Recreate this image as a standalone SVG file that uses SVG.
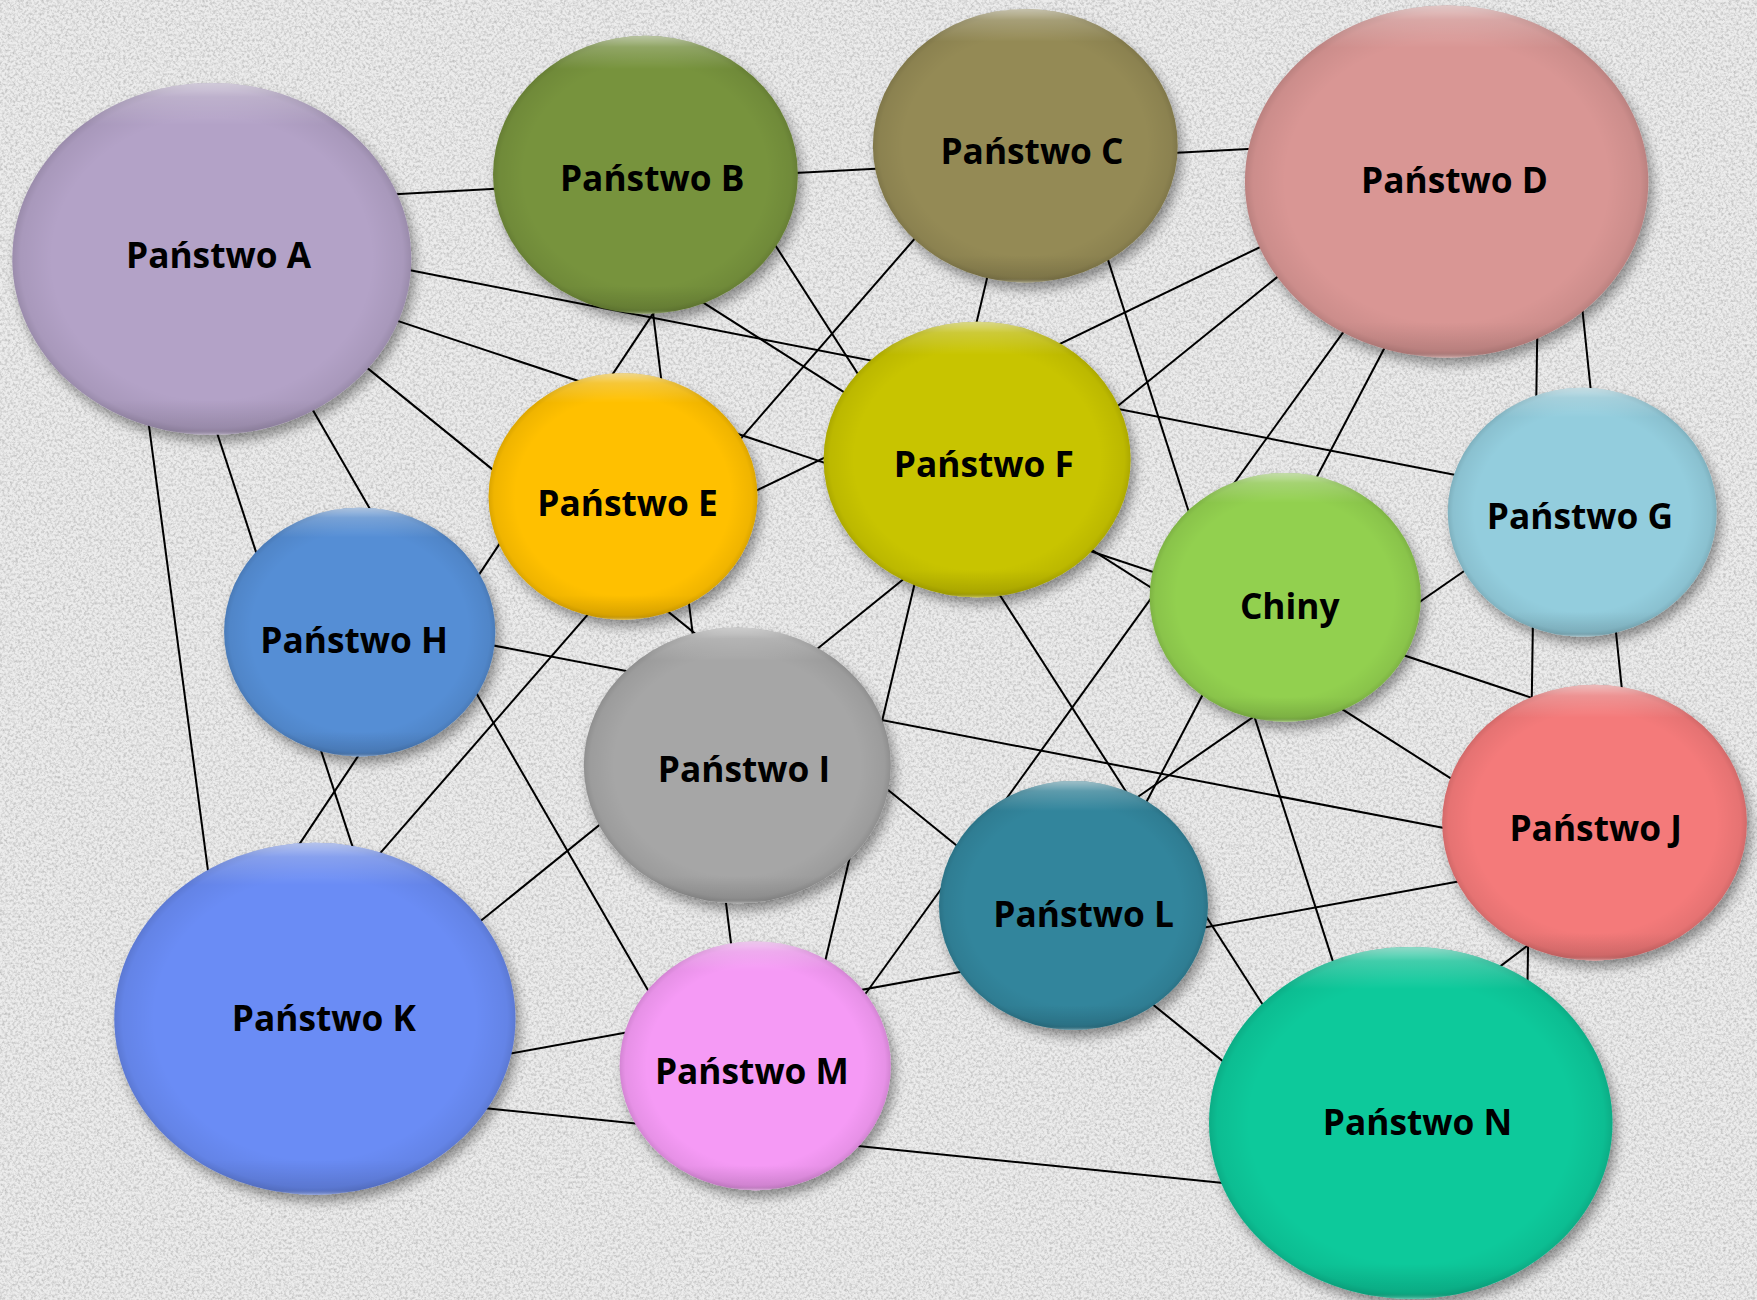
<svg xmlns="http://www.w3.org/2000/svg" width="1757" height="1300" viewBox="0 0 1757 1300">
<defs>
<style>
.t{font-family:"Open Sans",Lato,"Liberation Sans",sans-serif;font-weight:700;font-size:31.5px;fill:#000;text-anchor:middle}
.ln{stroke:#000;stroke-width:1.8;fill:none}
.b{filter:url(#sh)}
.edge{fill:url(#edge)}
.top{fill:url(#top)}
</style>
<filter id="noise" x="0" y="0" width="100%" height="100%">
<feTurbulence type="fractalNoise" baseFrequency="0.38" numOctaves="3" seed="7" result="n"/>
<feColorMatrix in="n" type="matrix" values="0 0 0 0 0.5  0 0 0 0 0.5  0 0 0 0 0.5  2 0 0 0 -0.8"/>
</filter>
<filter id="sh" x="-20%" y="-20%" width="150%" height="150%">
<feGaussianBlur in="SourceAlpha" stdDeviation="5"/>
<feOffset dx="4" dy="6" result="o"/>
<feComponentTransfer><feFuncA type="linear" slope="0.4"/></feComponentTransfer>
<feMerge><feMergeNode/><feMergeNode in="SourceGraphic"/></feMerge>
</filter>
<radialGradient id="edge" cx="50%" cy="50%" r="50%">
<stop offset="0.8" stop-color="#000" stop-opacity="0"/>
<stop offset="0.96" stop-color="#000" stop-opacity="0.06"/>
<stop offset="1" stop-color="#000" stop-opacity="0.14"/>
</radialGradient>
<linearGradient id="top" x1="0" y1="0" x2="0" y2="1">
<stop offset="0" stop-color="#fff" stop-opacity="0.55"/>
<stop offset="0.04" stop-color="#fff" stop-opacity="0.22"/>
<stop offset="0.12" stop-color="#fff" stop-opacity="0"/>
<stop offset="0.9" stop-color="#000" stop-opacity="0"/>
<stop offset="0.985" stop-color="#000" stop-opacity="0.1"/>
<stop offset="1" stop-color="#fff" stop-opacity="0.35"/>
</linearGradient>
</defs>
<rect width="1757" height="1300" fill="#ececec"/>
<rect width="1757" height="1300" filter="url(#noise)"/>
<g transform="scale(1.12054 1.12069)">
<g id="connectors">
<line class="ln" x1="340" y1="173.9" x2="1135" y2="131.9"/>
<line class="ln" x1="350" y1="238" x2="1315" y2="427"/>
<line class="ln" x1="340" y1="281.4" x2="1380" y2="627"/>
<line class="ln" x1="315" y1="318" x2="1105" y2="958"/>
<line class="ln" x1="270" y1="350" x2="590" y2="904"/>
<line class="ln" x1="190" y1="375" x2="320" y2="772"/>
<line class="ln" x1="131" y1="365" x2="188" y2="795"/>
<line class="ln" x1="592" y1="266" x2="258" y2="767"/>
<line class="ln" x1="581" y1="265" x2="654" y2="855"/>
<line class="ln" x1="615" y1="262" x2="1308" y2="703"/>
<line class="ln" x1="683" y1="205" x2="1135" y2="909"/>
<line class="ln" x1="825" y1="203" x2="330" y2="772"/>
<line class="ln" x1="884" y1="235" x2="733" y2="872"/>
<line class="ln" x1="985" y1="220" x2="1195" y2="875"/>
<line class="ln" x1="1140" y1="213" x2="660" y2="445"/>
<line class="ln" x1="1150" y1="239" x2="420" y2="829"/>
<line class="ln" x1="1207" y1="285" x2="765" y2="897"/>
<line class="ln" x1="1240" y1="302" x2="1015" y2="731"/>
<line class="ln" x1="1372" y1="290" x2="1363" y2="890"/>
<line class="ln" x1="1411" y1="265" x2="1449" y2="630"/>
<line class="ln" x1="1318" y1="501.7" x2="1005" y2="718.3"/>
<line class="ln" x1="425" y1="573" x2="1305" y2="742"/>
<line class="ln" x1="445" y1="942" x2="1310" y2="785"/>
<line class="ln" x1="425" y1="988" x2="1105" y2="1057"/>
<line class="ln" x1="1330" y1="869" x2="1372" y2="837"/>
</g>
<g id="node-a"><ellipse class="b" cx="189" cy="231" rx="178" ry="157" fill="#B3A2C7"/><ellipse class="edge" cx="189" cy="231" rx="178" ry="157"/><ellipse class="top" cx="189" cy="231" rx="178" ry="157"/><text class="t" x="195" y="239">Państwo A</text></g>
<g id="node-b"><ellipse class="b" cx="576" cy="156" rx="136" ry="124" fill="#77933C"/><ellipse class="edge" cx="576" cy="156" rx="136" ry="124"/><ellipse class="top" cx="576" cy="156" rx="136" ry="124"/><text class="t" x="582" y="170">Państwo B</text></g>
<g id="node-c"><ellipse class="b" cx="915" cy="130" rx="136" ry="122" fill="#948A54"/><ellipse class="edge" cx="915" cy="130" rx="136" ry="122"/><ellipse class="top" cx="915" cy="130" rx="136" ry="122"/><text class="t" x="921" y="146">Państwo C</text></g>
<g id="node-d"><ellipse class="b" cx="1291" cy="162" rx="180" ry="157" fill="#D99694"/><ellipse class="edge" cx="1291" cy="162" rx="180" ry="157"/><ellipse class="top" cx="1291" cy="162" rx="180" ry="157"/><text class="t" x="1298" y="172">Państwo D</text></g>
<g id="node-e"><ellipse class="b" cx="556" cy="443" rx="120" ry="110" fill="#FFC000"/><ellipse class="edge" cx="556" cy="443" rx="120" ry="110"/><ellipse class="top" cx="556" cy="443" rx="120" ry="110"/><text class="t" x="560" y="460">Państwo E</text></g>
<g id="node-f"><ellipse class="b" cx="872" cy="410" rx="137" ry="123" fill="#C8C400"/><ellipse class="edge" cx="872" cy="410" rx="137" ry="123"/><ellipse class="top" cx="872" cy="410" rx="137" ry="123"/><text class="t" x="878" y="426">Państwo F</text></g>
<g id="node-g"><ellipse class="b" cx="1412" cy="457" rx="120" ry="111" fill="#93CDDD"/><ellipse class="edge" cx="1412" cy="457" rx="120" ry="111"/><ellipse class="top" cx="1412" cy="457" rx="120" ry="111"/><text class="t" x="1410" y="472">Państwo G</text></g>
<g id="node-h"><ellipse class="b" cx="321" cy="564" rx="121" ry="111" fill="#558ED5"/><ellipse class="edge" cx="321" cy="564" rx="121" ry="111"/><ellipse class="top" cx="321" cy="564" rx="121" ry="111"/><text class="t" x="316" y="583">Państwo H</text></g>
<g id="node-i"><ellipse class="b" cx="658" cy="683" rx="137" ry="123" fill="#A6A6A6"/><ellipse class="edge" cx="658" cy="683" rx="137" ry="123"/><ellipse class="top" cx="658" cy="683" rx="137" ry="123"/><text class="t" x="664" y="698">Państwo I</text></g>
<g id="node-chiny"><ellipse class="b" cx="1147" cy="533" rx="121" ry="111" fill="#92D050"/><ellipse class="edge" cx="1147" cy="533" rx="121" ry="111"/><ellipse class="top" cx="1147" cy="533" rx="121" ry="111"/><text class="t" x="1151" y="552">Chiny</text></g>
<g id="node-j"><ellipse class="b" cx="1423" cy="734" rx="136" ry="123" fill="#F47A7A"/><ellipse class="edge" cx="1423" cy="734" rx="136" ry="123"/><ellipse class="top" cx="1423" cy="734" rx="136" ry="123"/><text class="t" x="1424" y="750">Państwo J</text></g>
<g id="node-k"><ellipse class="b" cx="281" cy="909" rx="179" ry="157" fill="#6B8CF5"/><ellipse class="edge" cx="281" cy="909" rx="179" ry="157"/><ellipse class="top" cx="281" cy="909" rx="179" ry="157"/><text class="t" x="289" y="920">Państwo K</text></g>
<g id="node-l"><ellipse class="b" cx="958" cy="808" rx="120" ry="111" fill="#31859C"/><ellipse class="edge" cx="958" cy="808" rx="120" ry="111"/><ellipse class="top" cx="958" cy="808" rx="120" ry="111"/><text class="t" x="967" y="827">Państwo L</text></g>
<g id="node-m"><ellipse class="b" cx="674" cy="951" rx="121" ry="111" fill="#F59AF5"/><ellipse class="edge" cx="674" cy="951" rx="121" ry="111"/><ellipse class="top" cx="674" cy="951" rx="121" ry="111"/><text class="t" x="671" y="967">Państwo M</text></g>
<g id="node-n"><ellipse class="b" cx="1259" cy="1002" rx="180" ry="157" fill="#0AC99B"/><ellipse class="edge" cx="1259" cy="1002" rx="180" ry="157"/><ellipse class="top" cx="1259" cy="1002" rx="180" ry="157"/><text class="t" x="1265" y="1013">Państwo N</text></g>
</g>
</svg>
